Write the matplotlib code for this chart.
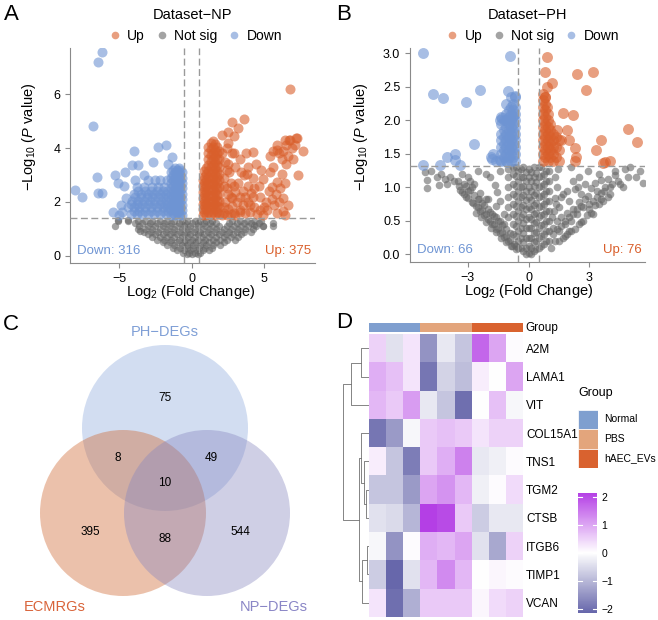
import numpy as np
import matplotlib.pyplot as plt
from matplotlib.patches import Circle
from matplotlib.lines import Line2D
from matplotlib.colors import LinearSegmentedColormap, ListedColormap

plt.rcParams['font.family'] = ['Liberation Sans', 'DejaVu Sans']
plt.rcParams['mathtext.fontset'] = 'custom'
plt.rcParams['mathtext.rm'] = 'Liberation Sans'
plt.rcParams['mathtext.it'] = 'Liberation Sans:italic'

# ---------------- data: panel A (Dataset-NP) ----------------
# dense parts typed as columns (x, [y...]) or rows (y, [x...])
a_down_cols = [
    (-1.45, [1.5, 1.7, 1.9, 2.1, 2.3, 2.5, 2.7, 2.9, 3.1]),
    (-1.3, [1.6, 1.8, 2.0, 2.2, 2.4, 2.6, 2.8, 3.0, 3.2]),
    (-1.15, [1.5, 1.7, 1.9, 2.1, 2.3, 2.5, 2.7, 2.9, 3.1, 3.25]),
    (-1.02, [1.6, 1.8, 2.0, 2.2, 2.4, 2.6, 2.8, 3.0, 3.2]),
    (-0.9, [1.5, 1.7, 1.9, 2.1, 2.3, 2.5, 2.7, 2.9, 3.1, 3.25]),
    (-0.8, [1.6, 1.8, 2.0, 2.2, 2.4, 2.6, 2.8, 3.0, 3.2]),
    (-0.7, [1.5, 1.7, 1.9, 2.1, 2.3, 2.5, 2.7, 2.9, 3.1]),
]
a_down_rows = [
    (1.55, [-4.2, -3.8, -3.4, -3.0, -2.6, -2.2, -1.8]),
    (1.68, [-4.0, -3.6, -3.2, -2.8, -2.4, -2.0, -1.6]),
    (1.8, [-4.4, -4.0, -3.6, -3.2, -2.8, -2.4, -2.0, -1.7]),
    (1.92, [-4.2, -3.8, -3.4, -3.0, -2.6, -2.2, -1.9, -1.6]),
    (2.05, [-4.1, -3.7, -3.3, -2.9, -2.5, -2.1, -1.75]),
    (2.18, [-3.9, -3.5, -3.1, -2.7, -2.3, -1.95, -1.65]),
    (2.3, [-4.0, -3.5, -3.0, -2.6, -2.2, -1.8]),
    (2.42, [-3.7, -3.2, -2.8, -2.4, -2.0, -1.7]),
    (2.55, [-3.8, -3.3, -2.7, -2.3, -1.9]),
    (2.8, [-3.9, -3.0, -2.2, -1.7]),
]
a_down_pts = [(-6.16, 7.58), (-6.47, 7.21), (-6.78, 4.82), (-8.03, 2.44), (-7.58, 2.19),
              (-6.54, 2.94), (-6.43, 2.32), (-6.16, 2.34), (-5.28, 3.0), (-5.05, 2.69),
              (-5.4, 1.64), (-4.82, 1.64), (-4.9, 1.9), (-4.59, 3.12), (-4.13, 3.37),
              (-3.67, 3.37), (-2.64, 3.49), (-1.38, 3.68), (-4.0, 3.9), (-2.3, 4.05),
              (-1.79, 4.12), (-4.66, 2.59), (-4.52, 2.13), (-2.53, 2.81), (-3.3, 3.0),
              (-1.6, 3.4), (-5.0, 1.5)]

a_up_cols = [
    (0.75, [1.5, 1.72, 1.94, 2.16, 2.38, 2.6, 2.82]),
    (0.88, [1.61, 1.83, 2.05, 2.27, 2.49, 2.71, 2.93, 3.15]),
    (1.0, [1.5, 1.72, 1.94, 2.16, 2.38, 2.6, 2.82, 3.04, 3.26]),
    (1.15, [1.61, 1.83, 2.05, 2.27, 2.49, 2.71, 2.93, 3.15, 3.37, 3.59, 3.81, 4.03]),
    (1.3, [1.55, 1.77, 1.99, 2.21, 2.43, 2.65, 2.87, 3.09, 3.31, 3.53, 3.75, 3.97, 4.19]),
    (1.45, [1.61, 1.83, 2.05, 2.27, 2.49, 2.71, 2.93, 3.15, 3.37, 3.59, 3.81, 4.03, 4.25]),
    (1.6, [1.5, 1.72, 1.94, 2.16, 2.38, 2.6, 2.82, 3.04, 3.26, 3.48, 3.7, 3.92, 4.14]),
    (1.75, [1.61, 1.83, 2.05, 2.27, 2.49, 2.71, 2.93, 3.15, 3.37, 3.59, 3.81, 4.03]),
    (1.9, [1.55, 1.8, 2.05, 2.3, 2.55, 2.8, 3.05, 3.3, 3.6, 3.9]),
]
a_up_pts = [(2.2, 1.6), (2.5, 1.75), (2.9, 1.6), (3.3, 1.7), (2.3, 2.0), (2.7, 2.2), (3.1, 2.0),
            (2.4, 2.5), (2.9, 2.6), (3.5, 2.4), (2.2, 2.9), (2.6, 3.1), (3.0, 3.3), (3.6, 3.0),
            (2.3, 3.5), (2.8, 3.8), (3.3, 3.6), (2.5, 4.2), (3.9, 2.6), (4.2, 2.2), (3.7, 1.6),
            (4.3, 1.8), (4.6, 2.6), (4.8, 3.2), (4.5, 1.55), (5.2, 1.7), (5.5, 2.1),
            (6.72, 4.3), (7.2, 4.37), (7.69, 3.89), (7.34, 3.0), (5.85, 3.93), (5.4, 3.72),
            (5.63, 3.29), (5.85, 2.73), (6.2, 3.03), (5.51, 2.55), (4.93, 2.85), (6.3, 2.14),
            (6.26, 1.66), (6.42, 1.5), (5.1, 2.0), (6.0, 3.8), (6.3, 3.9), (6.5, 4.1),
            (6.9, 4.0), (6.6, 3.7), (7.0, 3.6), (5.8, 2.3), (6.0, 2.0), (4.08, 2.34),
            (3.84, 3.05), (3.72, 3.8), (4.2, 3.85), (2.93, 3.8), (2.4, 4.0), (2.1, 4.5),
            (3.3, 1.62), (4.0, 1.62), (4.67, 1.7), (4.9, 1.5), (2.8, 2.13),
            (6.77, 6.19), (3.62, 5.08), (2.75, 4.98), (3.21, 4.74), (2.52, 4.61),
            (2.9, 4.45), (7.23, 4.36), (6.43, 4.3),
            (2.1, 1.5), (2.4, 1.5), (2.7, 1.55), (3.0, 1.5), (2.2, 1.8), (2.8, 1.85),
            (3.5, 1.9), (3.9, 2.0), (2.5, 2.3), (3.0, 2.35), (3.3, 2.2), (3.7, 2.2),
            (2.2, 2.6), (2.7, 2.7), (3.2, 2.7), (3.4, 3.1), (2.4, 3.2), (2.1, 3.8),
            (2.5, 3.4), (4.2, 2.9), (4.4, 3.4), (3.9, 3.3), (4.0, 1.9), (4.7, 2.2),
            (5.0, 1.8), (4.3, 2.5), (5.6, 3.9), (5.9, 4.1), (6.2, 3.6), (6.5, 3.4),
            (6.8, 4.3), (7.1, 4.1), (6.4, 2.7), (6.1, 2.5), (5.7, 1.9), (6.6, 1.9),
            (5.3, 2.4), (5.9, 1.6), (5.4, 3.1)]

a_ns_rows = [
    (1.3, [-5.1, -4.4, -3.7, -3.2, -2.7, -2.2, -1.7, -1.2, -0.7, -0.3, 0.2, 0.6, 1.0, 1.4,
           2.8, 3.3, 3.8, 4.3, 4.8]),
    (1.2, [-3.9, -3.4, -2.9, -2.4, -1.9, -1.4, -0.9, -0.45, 0.0, 0.45, 0.85, 1.25, 1.65,
           2.6, 3.1, 3.6, 4.1, 4.6]),
    (1.1, [-5.3, -3.6, -3.0, -2.5, -2.0, -1.5, -1.0, -0.5, -0.1, 0.4, 0.9, 1.4, 1.9, 2.4,
           2.9, 3.4, 3.9, 4.4, 4.9, 5.6]),
    (1.0, [-3.7, -3.2, -2.7, -2.2, -1.7, -1.2, -0.7, -0.25, 0.25, 0.7, 1.2, 1.7, 2.2, 2.7,
           3.2, 3.7, 4.2]),
    (0.9, [-3.3, -2.8, -2.3, -1.8, -1.3, -0.8, -0.35, 0.15, 0.6, 1.1, 1.6, 2.1, 2.6, 3.1,
           3.6, 4.1]),
    (0.8, [-3.0, -2.5, -2.0, -1.5, -1.0, -0.55, -0.1, 0.4, 0.85, 1.35, 1.85, 2.35, 2.85, 3.4]),
    (0.7, [-2.7, -2.2, -1.7, -1.2, -0.7, -0.25, 0.2, 0.7, 1.2, 1.7, 2.2, 2.7, 3.2]),
    (0.6, [-2.4, -1.9, -1.4, -0.9, -0.45, 0.0, 0.45, 0.95, 1.45, 1.95, 2.45, 2.95]),
    (0.5, [-2.0, -1.5, -1.0, -0.55, -0.15, 0.3, 0.75, 1.2, 1.7, 2.2]),
    (0.4, [-1.7, -1.2, -0.7, -0.3, 0.1, 0.55, 1.0, 1.5, 1.95]),
    (0.3, [-1.3, -0.8, -0.35, 0.1, 0.5, 0.95, 1.4]),
    (0.22, [-1.0, -0.55, -0.1, 0.35, 0.8, 1.2]),
    (0.12, [-0.6, -0.2, 0.2, 0.6]),
    (0.05, [-0.3, 0.05, 0.4]),
]
a_ns_pts = [(-5.05, 1.32), (-4.36, 1.32), (-3.55, 0.92), (5.62, 1.23), (4.9, 1.1), (4.3, 1.15)]

# ---------------- data: panel B (Dataset-PH) ----------------
b_down_cols = [
    (-1.35, [1.4, 1.5, 1.6, 1.7, 1.8, 1.95, 2.05]),
    (-1.22, [1.45, 1.55, 1.65, 1.75, 1.85, 2.0]),
    (-1.1, [1.4, 1.5, 1.6, 1.7, 1.8, 1.9, 2.0, 2.1, 2.25]),
    (-0.97, [1.45, 1.55, 1.65, 1.75, 1.85, 1.95, 2.05, 2.15]),
    (-0.85, [1.4, 1.5, 1.6, 1.7, 1.8, 1.9, 2.0, 2.1, 2.2, 2.35]),
    (-0.75, [1.45, 1.55, 1.65, 1.75, 1.85, 1.95, 2.05, 2.15, 2.25]),
    (-0.65, [1.4, 1.5, 1.6, 1.7, 1.8, 1.9, 2.0, 2.1, 2.2, 2.35]),
]
b_down_pts = [(-5.22, 3.01), (-0.91, 2.96), (-4.7, 2.39), (-4.24, 2.34), (-3.09, 2.28),
              (-2.4, 2.45), (-0.99, 2.44), (-0.67, 2.36), (-1.41, 2.01), (-2.69, 1.65),
              (-3.63, 1.5), (-4.04, 1.46), (-1.85, 1.45), (-1.74, 1.5), (-5.19, 1.33),
              (-4.37, 1.33), (-3.38, 1.33), (-3.63, 1.41), (-1.82, 1.43), (-1.4, 1.41),
              (-1.07, 1.38), (-1.32, 2.03), (-0.78, 2.07), (-1.6, 1.4)]

b_up_cols = [
    (0.7, [1.4, 1.5, 1.6, 1.7, 1.8, 1.9, 2.0, 2.1, 2.2, 2.3, 2.4]),
    (0.82, [1.45, 1.55, 1.65, 1.75, 1.85, 1.95, 2.05, 2.15, 2.25, 2.35]),
    (0.95, [1.4, 1.5, 1.6, 1.7, 1.8, 1.9, 2.0, 2.1]),
    (1.08, [1.45, 1.55, 1.65, 1.75, 1.85, 1.95]),
    (1.2, [1.4, 1.5, 1.6, 1.7, 1.8]),
    (1.35, [1.45, 1.6, 1.75]),
    (1.5, [1.4, 1.55, 1.7]),
]
b_up_pts = [(0.9, 2.94), (0.81, 2.72), (1.15, 2.55), (2.38, 2.69), (3.2, 2.72), (2.84, 2.45),
            (1.69, 2.11), (2.21, 2.08), (4.9, 1.87), (5.34, 1.68), (3.58, 1.71), (3.32, 1.56),
            (1.89, 1.86), (2.0, 1.7), (2.3, 1.58), (2.36, 1.45), (2.3, 1.4), (3.78, 1.38),
            (4.0, 1.4), (1.6, 1.7), (1.4, 1.85), (0.9, 2.2), (0.8, 2.35), (0.9, 2.5),
            (3.7, 1.36)]

b_ns_cols = [
    (-1.0, [0.55, 0.7, 0.85, 1.0, 1.15, 1.28]),
    (-0.75, [0.3, 0.45, 0.6, 0.75, 0.9, 1.05, 1.2, 1.3]),
    (-0.62, [0.12, 0.27, 0.42, 0.57, 0.72, 0.87, 1.02, 1.17, 1.3]),
    (-0.5, [0.2, 0.35, 0.5, 0.65, 0.8, 0.95, 1.1, 1.25]),
    (-0.38, [0.1, 0.25, 0.4, 0.55, 0.7, 0.85, 1.0, 1.15, 1.28]),
    (-0.25, [0.05, 0.18, 0.32, 0.46, 0.6, 0.74, 0.88, 1.02, 1.16, 1.3]),
    (-0.12, [0.0, 0.1, 0.25, 0.39, 0.53, 0.67, 0.81, 0.95, 1.09, 1.23]),
    (0.0, [0.02, 0.12, 0.25, 0.4, 0.55, 0.7, 0.85, 1.0, 1.15, 1.28]),
    (0.12, [0.0, 0.1, 0.25, 0.39, 0.53, 0.67, 0.81, 0.95, 1.09, 1.23]),
    (0.25, [0.05, 0.18, 0.32, 0.46, 0.6, 0.74, 0.88, 1.02, 1.16, 1.3]),
    (0.38, [0.08, 0.2, 0.33, 0.48, 0.62, 0.77, 0.92, 1.08, 1.22]),
    (0.5, [0.1, 0.25, 0.4, 0.55, 0.7, 0.85, 1.0, 1.15, 1.3]),
    (0.62, [0.12, 0.28, 0.43, 0.58, 0.72, 0.87, 1.02, 1.17, 1.3]),
    (0.75, [0.15, 0.3, 0.45, 0.6, 0.75, 0.9, 1.05, 1.2]),
    (0.88, [0.2, 0.35, 0.5, 0.65, 0.8, 0.95, 1.1, 1.25]),
    (1.0, [0.2, 0.35, 0.5, 0.65, 0.8, 0.95, 1.1, 1.25]),
]
b_ns_pts = [(-5.11, 1.23), (-5.03, 1.11), (-5.0, 0.99), (-4.5, 1.16), (-4.4, 1.04),
            (-4.12, 1.13), (-3.9, 1.16), (-3.7, 1.1), (-3.45, 1.02), (-2.97, 1.16),
            (-2.9, 1.1), (-4.8, 1.25), (-3.3, 1.2), (-2.5, 1.25), (-2.1, 1.2), (-1.65, 1.03),
            (-1.58, 0.93), (-1.9, 1.15), (-1.4, 1.25),
            (-3.3, 0.93), (-3.07, 0.86), (-2.75, 0.76), (-2.5, 0.7), (-2.31, 0.66),
            (-2.1, 0.6), (-1.9, 0.5), (-1.7, 0.45), (-1.5, 0.4), (-1.3, 0.33), (-1.1, 0.28),
            (-0.9, 0.22), (-0.7, 0.15), (-0.5, 0.1), (-3.0, 0.95), (-2.7, 0.88),
            (-2.45, 0.82), (-2.2, 0.74), (-2.0, 0.68), (-1.8, 0.6), (-1.6, 0.55),
            (-1.4, 0.5), (-1.2, 0.45), (-2.6, 0.62), (-2.35, 0.55), (-2.1, 0.48),
            (-1.85, 0.4), (-1.6, 0.33), (-1.35, 0.25), (-1.1, 0.18), (-0.85, 0.12),
            (-3.2, 1.05), (-2.8, 1.0), (-2.1, 0.83), (-1.4, 0.79),
            (-0.6, 0.08), (-0.8, 0.13), (-1.0, 0.2), (-1.2, 0.26), (-1.4, 0.32), (-1.6, 0.38),
            (-1.8, 0.45), (-2.0, 0.52), (-2.2, 0.58), (-2.4, 0.65), (-2.6, 0.72),
            (-2.8, 0.78), (-3.0, 0.84), (-3.2, 0.9), (-3.4, 0.96),
            (-0.9, 0.32), (-1.1, 0.38), (-1.3, 0.44), (-1.5, 0.5), (-1.7, 0.57),
            (-1.9, 0.63), (-2.3, 0.76), (-2.5, 0.83), (-2.9, 0.96), (-3.1, 1.02),
            (-1.2, 0.6), (-1.6, 0.72), (-2.0, 0.82), (-2.4, 0.92), (-2.7, 1.05),
            (-3.5, 1.1), (-4.0, 1.05), (-4.3, 1.2),
            (1.31, 0.84), (1.5, 0.7), (2.3, 0.98), (2.45, 1.0), (2.95, 0.87), (3.1, 0.99),
            (3.28, 1.06), (3.6, 1.11), (3.9, 1.13), (4.25, 1.18), (4.25, 1.25), (4.74, 1.27),
            (5.0, 1.3), (5.67, 1.06), (4.65, 1.01), (3.6, 0.83), (3.3, 0.73), (2.9, 0.58),
            (2.6, 0.48), (2.3, 0.38), (1.8, 0.28), (1.3, 0.2), (1.48, 1.28), (2.1, 1.3),
            (2.95, 1.25), (3.75, 0.95), (1.5, 0.35), (1.8, 0.45), (2.1, 0.5), (2.4, 0.6),
            (2.7, 0.7), (3.0, 0.75), (1.6, 0.55), (1.9, 0.62), (2.2, 0.68), (2.5, 0.78),
            (2.8, 0.82), (1.4, 0.5), (1.25, 0.65), (2.0, 0.8), (1.7, 0.9), (1.4, 1.0),
            (1.3, 1.15), (2.0, 0.35), (2.6, 0.9), (3.4, 0.95), (4.0, 1.0), (4.4, 1.1),
            (5.3, 1.15), (4.0, 0.9), (3.2, 0.6), (1.2, 0.4),
            (1.1, 0.1), (1.5, 0.2), (1.7, 0.25), (1.9, 0.3), (2.1, 0.35), (2.5, 0.45),
            (2.7, 0.5), (3.1, 0.62), (3.5, 0.75), (3.7, 0.8), (3.9, 0.86),
            (1.2, 0.3), (1.4, 0.38), (1.6, 0.42), (1.8, 0.5), (2.0, 0.56), (2.2, 0.6),
            (2.4, 0.68), (2.6, 0.72), (3.0, 0.68), (3.2, 0.8), (3.4, 0.85), (3.6, 0.92),
            (3.8, 1.0), (4.1, 1.05), (1.15, 0.55), (1.35, 0.75), (1.6, 0.85), (1.9, 0.95),
            (2.2, 1.1), (2.5, 1.15), (2.8, 1.05), (3.5, 1.2), (4.5, 1.05), (4.9, 1.15),
            (5.5, 1.25)]

# ---------------- data: panel C (Venn) ----------------
venn_sets = ['PH\u2212DEGs', 'ECMRGs', 'NP\u2212DEGs']
# region counts: PH only, PH&ECM, PH&NP, all, ECM only, ECM&NP, NP only
venn_counts = [75, 8, 49, 10, 395, 88, 544]

# ---------------- data: panel D (heatmap) ----------------
genes = ['A2M', 'LAMA1', 'VIT', 'COL15A1', 'TNS1', 'TGM2', 'CTSB', 'ITGB6', 'TIMP1', 'VCAN']
groups = ['Normal', 'Normal', 'Normal', 'PBS', 'PBS', 'PBS', 'hAEC_EVs', 'hAEC_EVs', 'hAEC_EVs']
group_names = ['Normal', 'PBS', 'hAEC_EVs']
heat = np.array([
    [0.5, -0.4, 0.3, -1.5, -0.3, -0.8, 1.7, 1.0, 0.05],
    [0.9, 0.7, 0.3, -1.9, -0.6, -0.9, 0.2, 0.0, 1.0],
    [0.8, 0.6, 1.1, -0.3, -0.8, -2.0, 0.0, 0.7, -0.1],
    [-1.9, -1.4, -0.1, 0.6, 0.7, 0.6, 0.3, 0.5, 0.5],
    [0.2, -0.8, -1.8, 0.6, 0.9, 1.4, -0.3, -0.2, 0.05],
    [-0.8, -0.8, -1.4, 1.0, 1.2, 0.8, -0.2, 0.05, 0.4],
    [-0.4, -0.5, -1.0, 2.14, 2.0, 0.6, -0.7, -0.3, -0.3],
    [-0.1, -1.5, 0.05, 0.9, 0.8, 1.0, -0.4, -1.2, 0.5],
    [-0.7, -2.13, -0.4, 0.8, 1.3, 0.8, 0.0, 0.1, 0.05],
    [0.3, -2.0, -1.1, 0.6, 0.6, 0.6, 0.1, 0.4, 0.5],
])
# row dendrogram merges (left, right, height), new nodes numbered from 10
row_merges = [(0, 1, 0.3), (10, 2, 0.72), (5, 6, 0.12), (4, 12, 0.2), (3, 13, 0.33),
              (7, 8, 0.1), (15, 9, 0.28), (14, 16, 0.4), (11, 17, 1.0)]

# ---------------- helpers ----------------
W, H = 658, 620
UP, NS, DOWN = '#D95F2B', '#666666', '#6E94D3'


def px_axes(fig, left, top, right, bottom):
    return fig.add_axes([left / W, 1 - bottom / H, (right - left) / W, (bottom - top) / H])


def collect(cols=(), rows=(), pts=()):
    xs, ys = [], []
    for x, yl in cols:
        xs += [x] * len(yl)
        ys += list(yl)
    for y, xl in rows:
        xs += list(xl)
        ys += [y] * len(xl)
    for x, y in pts:
        xs.append(x)
        ys.append(y)
    return np.array(xs), np.array(ys)


def volcano(ax, ns, down, up, s_ns, s_sig, xlim, ylim, xticks, yticks, fc, pc,
            title, n_down, n_up, lab_x, ylab_x, leg_x):
    ax.scatter(*ns, s=s_ns, color=NS, alpha=0.6, lw=0, zorder=1)
    ax.scatter(*down, s=s_sig, color=DOWN, alpha=0.6, lw=0, zorder=2)
    ax.scatter(*up, s=s_sig, color=UP, alpha=0.6, lw=0, zorder=2)
    for v in (-fc, fc):
        ax.axvline(v, color='#9a9a9a', lw=1.0, ls=(0, (5, 2.5)), zorder=3)
    ax.axhline(pc, color='#9a9a9a', lw=1.0, ls=(0, (5, 2.5)), zorder=3)
    ax.set_xlim(*xlim)
    ax.set_ylim(*ylim)
    ax.set_xticks(xticks)
    ax.set_yticks(yticks)
    for sp in ('top', 'right'):
        ax.spines[sp].set_visible(False)
    for sp in ('left', 'bottom'):
        ax.spines[sp].set_color('#8a8a8a')
        ax.spines[sp].set_linewidth(0.8)
    ax.tick_params(colors='#8a8a8a', labelcolor='black', labelsize=9, length=3.5, width=0.8)
    ax.set_xlabel('Log$_2$ (Fold Change)', fontsize=10.5)
    ax.xaxis.set_label_coords(lab_x, -0.095)
    ax.set_ylabel('\u2212Log$_{10}$ ($\\mathit{P}$ value)', fontsize=10.5)
    ax.yaxis.set_label_coords(ylab_x, 0.586)
    ax.text(0.5, 1.153, title, transform=ax.transAxes, ha='center', va='center', fontsize=10.5)
    ax.text(0.03, 0.055, f'Down: {n_down}', transform=ax.transAxes, color=DOWN,
            fontsize=9.5, ha='left', va='center')
    ax.text(0.985, 0.055, f'Up: {n_up}', transform=ax.transAxes, color=UP,
            fontsize=9.5, ha='right', va='center')
    handles = [Line2D([], [], marker='o', ls='', color=c, alpha=0.6, markersize=5.5, mew=0)
               for c in (UP, NS, DOWN)]
    ax.legend(handles, ['Up', 'Not sig', 'Down'], ncol=3, loc='center',
              bbox_to_anchor=(leg_x, 1.056), frameon=False, fontsize=10,
              handlelength=1.0, handletextpad=0.4, columnspacing=0.7, borderpad=0)


fig = plt.figure(figsize=(W / 100, H / 100), dpi=100)

# ---------------- A ----------------
axA = px_axes(fig, 70, 48, 315, 263)
volcano(axA, collect(rows=a_ns_rows, pts=a_ns_pts),
        collect(a_down_cols, a_down_rows, a_down_pts),
        collect(a_up_cols, pts=a_up_pts),
        28, 52, (-8.38, 8.49), (-0.27, 7.72), [-5, 0, 5], [0, 2, 4, 6], 0.5, 1.4,
        'Dataset\u2212NP', 316, 375, 0.493, -0.13, 0.51)

# ---------------- B ----------------
axB = px_axes(fig, 410, 48, 645, 262)
volcano(axB, collect(b_ns_cols, pts=b_ns_pts),
        collect(b_down_cols, pts=b_down_pts),
        collect(b_up_cols, pts=b_up_pts),
        30, 62, (-5.85, 5.75), (-0.115, 3.08), [-3, 0, 3],
        [0.0, 0.5, 1.0, 1.5, 2.0, 2.5, 3.0], 0.5, 1.32,
        'Dataset\u2212PH', 66, 76, 0.506, -0.17, 0.52)
axB.set_yticklabels([f'{v:.1f}' for v in axB.get_yticks()])

# ---------------- C: Venn ----------------
axC = px_axes(fig, 0, 300, 330, 620)
axC.set_xlim(0, 330)
axC.set_ylim(320, 0)
axC.axis('off')
r = 83
centers = [(165, 128), (123, 213), (207, 213)]
circ_cols = ['#7F9FD9', '#CF662F', '#8787C0']
circ_alpha = [0.35, 0.4, 0.4]
for (cx, cy), col, al in zip(centers, circ_cols, circ_alpha):
    axC.add_patch(Circle((cx, cy), r, facecolor=col, alpha=al, edgecolor='none'))
label_cols = ['#7F9FD6', '#D9643A', '#8A86C6']
label_pos = [(165, 31.7), (55, 307.3), (274, 307.3)]
for name, (lx, ly), col in zip(venn_sets, label_pos, label_cols):
    axC.text(lx, ly, name, color=col, fontsize=10.5, ha='center', va='center')
count_pos = [(165, 98.3), (117.3, 158.3), (211.7, 158.3), (165, 183.3),
             (90, 231.7), (165, 239.3), (240, 231.7)]
for cnt, (tx, ty) in zip(venn_counts, count_pos):
    axC.text(tx, ty, str(cnt), fontsize=8.5, ha='center', va='center')

# ---------------- D: heatmap ----------------
cmap = LinearSegmentedColormap.from_list('hm', ['#6767AB', '#FFFFFF', '#B43FE5'])
vmin, vmax = heat.min(), heat.max()
axH = px_axes(fig, 369.3, 334.3, 522.7, 616.7)
im = axH.imshow(heat, cmap=cmap, vmin=vmin, vmax=vmax, aspect='auto', interpolation='nearest')
axH.set_xticks([])
axH.yaxis.tick_right()
axH.set_yticks(range(len(genes)))
axH.set_yticklabels(genes, fontsize=8.5)
axH.tick_params(axis='y', length=0, pad=2.5)
for sp in axH.spines.values():
    sp.set_visible(False)

grp_cols = ['#7F9FCF', '#E3A57C', '#D9622F']
axG = px_axes(fig, 369.3, 323.3, 522.7, 332.3)
axG.imshow([[group_names.index(g) for g in groups]], cmap=ListedColormap(grp_cols),
           vmin=-0.5, vmax=2.5, aspect='auto', interpolation='nearest')
axG.axis('off')
axG.text(1.015, 0.5, 'Group', transform=axG.transAxes, ha='left', va='center', fontsize=8.5)

# dendrogram
axD = px_axes(fig, 340.4, 334.3, 369.3, 616.7)
node_y = {i: float(i) for i in range(len(genes))}
node_h = {i: 0.0 for i in range(len(genes))}
for k, (a, b, h) in enumerate(row_merges):
    axD.plot([node_h[a], h, h, node_h[b]], [node_y[a], node_y[a], node_y[b], node_y[b]],
             color='#707070', lw=0.6)
    node_y[len(genes) + k] = (node_y[a] + node_y[b]) / 2
    node_h[len(genes) + k] = h
axD.set_xlim(1.11, 0)
axD.set_ylim(len(genes) - 0.5, -0.5)
axD.axis('off')

# group legend
axL = px_axes(fig, 578, 409.5, 598, 468)
axL.barh(range(3), 1, height=1, color=grp_cols, edgecolor='white', lw=0.5)
axL.set_xlim(0, 1)
axL.set_ylim(2.5, -0.5)
axL.axis('off')
for i, g in enumerate(group_names):
    axL.text(1.3, i, g, fontsize=7.5, ha='left', va='center')
axL.text(0, -1.35, 'Group', fontsize=9, ha='left', va='center')

# colorbar
axCB = px_axes(fig, 578, 492.7, 597, 612.7)
cb = fig.colorbar(im, cax=axCB, ticks=[-2, -1, 0, 1, 2])
cb.outline.set_visible(False)
cb.ax.set_yticklabels(['\u22122', '\u22121', '0', '1', '2'])
cb.ax.tick_params(length=0, labelsize=7.5, pad=3)
for t in [-2, -1, 0, 1, 2]:
    axCB.axhline(t, 0, 0.2, color='white', lw=0.8)
    axCB.axhline(t, 0.8, 1, color='white', lw=0.8)

# panel letters
for letter, (lx, ly) in zip('ABCD', [(11, 14), (344, 14), (11, 324), (344, 323)]):
    fig.text(lx / W, 1 - ly / H, letter, fontsize=16, ha='center', va='center')

fig.savefig('out.png', dpi=100)
